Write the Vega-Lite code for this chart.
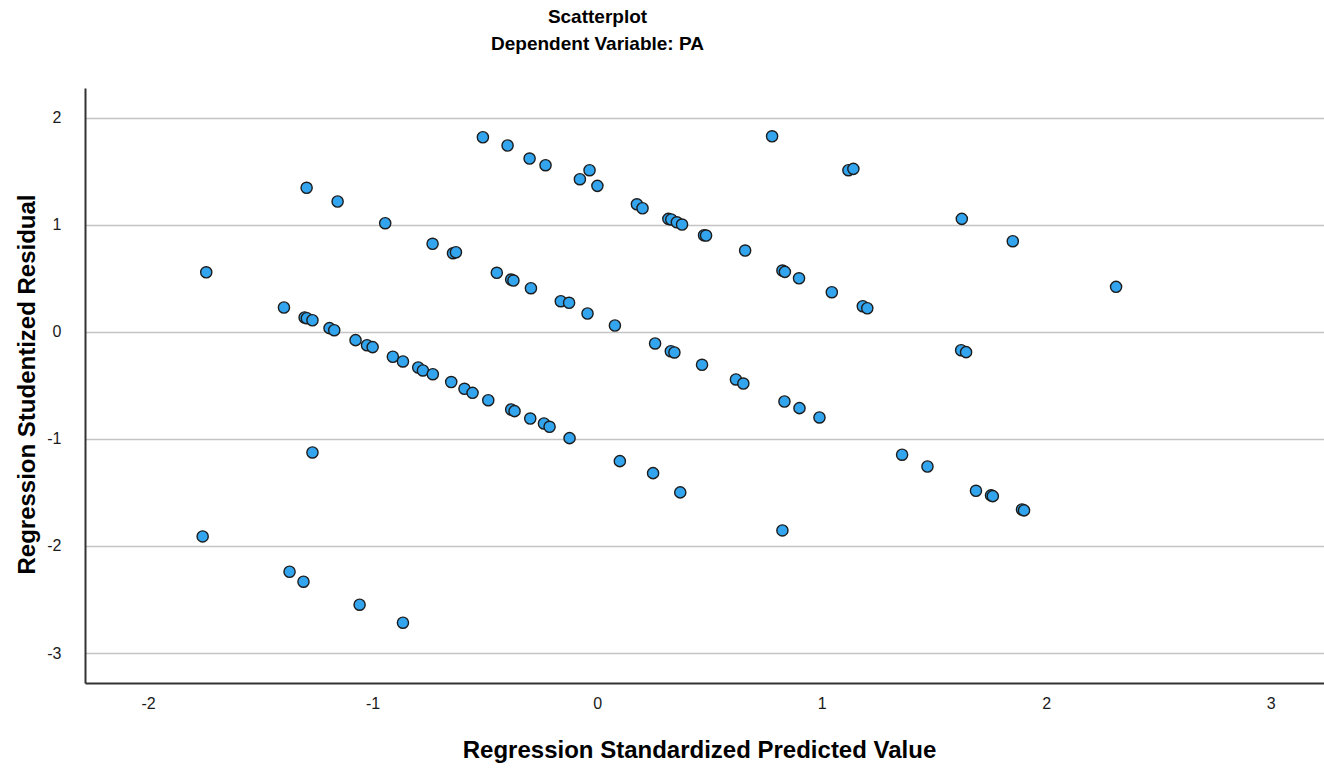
{
  "$schema": "https://vega.github.io/schema/vega-lite/v6.json",
  "autosize": "none",
  "width": 1239,
  "height": 595,
  "padding": {"left": 85, "top": 88, "right": 0, "bottom": 85},
  "background": "white",
  "title": {
    "text": ["Scatterplot", "Dependent Variable: PA"],
    "font": "Liberation Sans",
    "fontSize": 19,
    "fontWeight": "bold",
    "color": "#000000",
    "anchor": "middle",
    "frame": "group",
    "dx": -107,
    "lineHeight": 27,
    "baseline": "bottom",
    "offset": 15
  },
  "data": {
    "values": [
      {"x": -0.509, "y": 1.817}, {"x": -0.399, "y": 1.740}, {"x": -0.301, "y": 1.618}, {"x": -0.230, "y": 1.556},
      {"x": -0.077, "y": 1.425}, {"x": -0.034, "y": 1.509}, {"x": 0.001, "y": 1.363}, {"x": 0.177, "y": 1.191},
      {"x": 0.202, "y": 1.154}, {"x": 0.317, "y": 1.055}, {"x": 0.330, "y": 1.049}, {"x": 0.355, "y": 1.023},
      {"x": 0.378, "y": 1.002}, {"x": 0.476, "y": 0.902}, {"x": 0.485, "y": 0.899}, {"x": 0.659, "y": 0.759},
      {"x": 0.825, "y": 0.572}, {"x": 0.836, "y": 0.560}, {"x": 0.899, "y": 0.500}, {"x": 1.045, "y": 0.370},
      {"x": 1.183, "y": 0.239}, {"x": 1.203, "y": 0.220}, {"x": 1.621, "y": -0.172}, {"x": 1.643, "y": -0.190},
      {"x": 0.779, "y": 1.826}, {"x": 1.119, "y": 1.509}, {"x": 1.141, "y": 1.522}, {"x": 1.624, "y": 1.055},
      {"x": 1.851, "y": 0.846}, {"x": 2.311, "y": 0.420},
      {"x": -1.294, "y": 1.345}, {"x": -1.156, "y": 1.217}, {"x": -0.944, "y": 1.014}, {"x": -0.733, "y": 0.822},
      {"x": -0.642, "y": 0.734}, {"x": -0.629, "y": 0.743}, {"x": -0.447, "y": 0.551}, {"x": -0.383, "y": 0.488},
      {"x": -0.373, "y": 0.479}, {"x": -0.295, "y": 0.407}, {"x": -0.162, "y": 0.286}, {"x": -0.125, "y": 0.271},
      {"x": -0.043, "y": 0.171}, {"x": 0.079, "y": 0.059}, {"x": 0.258, "y": -0.109}, {"x": 0.328, "y": -0.181},
      {"x": 0.344, "y": -0.193}, {"x": 0.467, "y": -0.308}, {"x": 0.618, "y": -0.445}, {"x": 0.651, "y": -0.483},
      {"x": 0.834, "y": -0.651}, {"x": 0.901, "y": -0.713}, {"x": 0.990, "y": -0.800}, {"x": 1.358, "y": -1.148},
      {"x": 1.471, "y": -1.258}, {"x": 1.687, "y": -1.485}, {"x": 1.754, "y": -1.528}, {"x": 1.762, "y": -1.535},
      {"x": 1.892, "y": -1.659}, {"x": 1.901, "y": -1.668},
      {"x": -1.741, "y": 0.556}, {"x": -1.395, "y": 0.227}, {"x": -1.303, "y": 0.134}, {"x": -1.293, "y": 0.127},
      {"x": -1.268, "y": 0.108}, {"x": -1.192, "y": 0.034}, {"x": -1.171, "y": 0.015}, {"x": -1.076, "y": -0.078},
      {"x": -1.025, "y": -0.125}, {"x": -1.000, "y": -0.143}, {"x": -0.910, "y": -0.233}, {"x": -0.865, "y": -0.277},
      {"x": -0.797, "y": -0.333}, {"x": -0.776, "y": -0.361}, {"x": -0.732, "y": -0.396}, {"x": -0.650, "y": -0.469},
      {"x": -0.591, "y": -0.532}, {"x": -0.555, "y": -0.570}, {"x": -0.485, "y": -0.639}, {"x": -0.383, "y": -0.725},
      {"x": -0.368, "y": -0.741}, {"x": -0.298, "y": -0.810}, {"x": -0.237, "y": -0.856}, {"x": -0.212, "y": -0.887},
      {"x": -0.123, "y": -0.993}, {"x": 0.101, "y": -1.208}, {"x": 0.249, "y": -1.320}, {"x": 0.370, "y": -1.500},
      {"x": 0.825, "y": -1.855},
      {"x": -1.268, "y": -1.127}, {"x": -1.757, "y": -1.911}, {"x": -1.370, "y": -2.241}, {"x": -1.308, "y": -2.334},
      {"x": -1.058, "y": -2.549}, {"x": -0.865, "y": -2.717}
    ]
  },
  "mark": {
    "type": "point",
    "shape": "circle",
    "filled": true,
    "fill": "#33a4ee",
    "stroke": "#1c1c1c",
    "strokeWidth": 1.4,
    "size": 125,
    "opacity": 1
  },
  "encoding": {
    "x": {
      "field": "x",
      "type": "quantitative",
      "scale": {"domain": [-2.281, 3.237], "nice": false, "zero": false},
      "axis": {
        "title": "Regression Standardized Predicted Value",
        "values": [-2, -1, 0, 1, 2, 3],
        "labelExpr": "'' + datum.value",
        "grid": false,
        "ticks": false,
        "domainColor": "#333333",
        "domainWidth": 2,
        "labelFont": "Liberation Sans",
        "labelFontSize": 16,
        "labelColor": "#1a1a1a",
        "labelPadding": 12,
        "titleFont": "Liberation Sans",
        "titleFontSize": 24,
        "titleFontWeight": "bold",
        "titleColor": "#000000",
        "titleBaseline": "alphabetic",
        "titleY": 74,
        "titleX": 614
      }
    },
    "y": {
      "field": "y",
      "type": "quantitative",
      "scale": {"domain": [-3.28, 2.277], "nice": false, "zero": false},
      "axis": {
        "title": "Regression Studentized Residual",
        "values": [-3, -2, -1, 0, 1, 2],
        "labelExpr": "'' + datum.value",
        "grid": true,
        "gridColor": "#c4c4c4",
        "gridWidth": 1.5,
        "ticks": false,
        "domainColor": "#333333",
        "domainWidth": 2,
        "labelFont": "Liberation Sans",
        "labelFontSize": 16,
        "labelColor": "#1a1a1a",
        "labelPadding": 24,
        "titleFont": "Liberation Sans",
        "titleFontSize": 24,
        "titleFontWeight": "bold",
        "titleColor": "#000000",
        "titleAngle": -90,
        "titleBaseline": "alphabetic",
        "titleX": -51,
        "titleY": 296
      }
    }
  },
  "config": {
    "view": {"stroke": null}
  }
}
